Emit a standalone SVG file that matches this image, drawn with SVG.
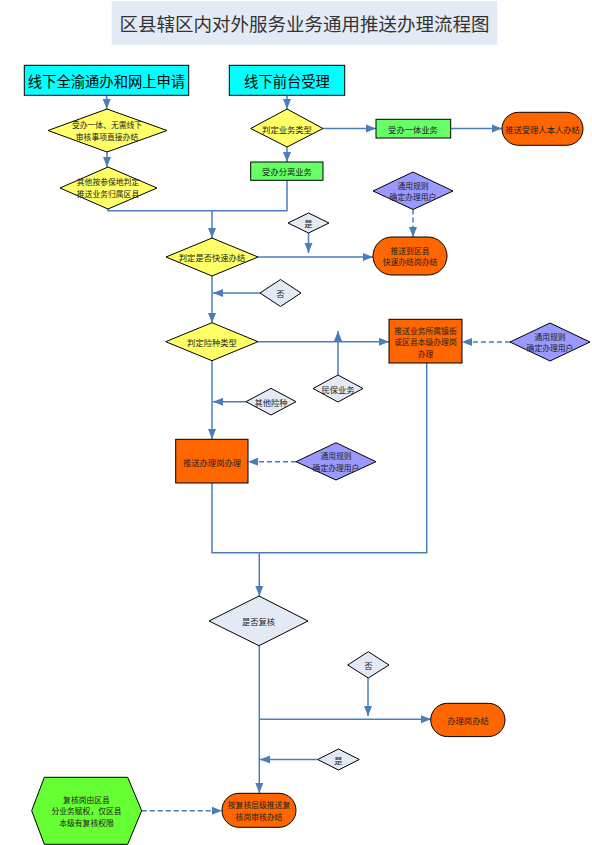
<svg xmlns="http://www.w3.org/2000/svg" width="592" height="845" viewBox="0 0 592 845">
<style>
text{font-family:"Noto Sans CJK SC","Noto Sans",sans-serif;text-anchor:middle;dominant-baseline:central;fill:#222;font-size:8.3px}
.sm{font-size:7.8px}
.big{font-size:14.3px;fill:#000}
.title{font-size:18.5px;fill:#333}
.bd{stroke:#000;stroke-width:1}
.cy{fill:#00ffff}
.ye{fill:#ffff66}
.gr{fill:#66ff66}
.or{fill:#ff6600}
.pu{fill:#9999ff}
.lt{fill:#e4eaf5}
.c{fill:none;stroke:#4a7ebb;stroke-width:1.5}
.a{marker-end:url(#ah)}
.d{stroke-dasharray:5,3}
</style>
<defs>
<marker id="ah" markerUnits="userSpaceOnUse" markerWidth="10" markerHeight="10" viewBox="0 0 10 10" refX="10" refY="5" orient="auto">
<path d="M0,1 L10,5 L0,9 Z" fill="#4a7ebb"/>
</marker>
</defs>
<g id="title"><rect x="111.7" y="1" width="385.6" height="44" fill="#e4eaf5"/><text class="title" x="304.5" y="23">区县辖区内对外服务业务通用推送办理流程图</text></g>
<g id="connectors">
<path class="c a" d="M106.7,95.5 V109"/>
<path class="c a" d="M287,95.5 V109"/>
<path class="c a" d="M107,152 V167"/>
<path class="c a" d="M323,128.5 H376"/>
<path class="c a" d="M451,128.5 H502"/>
<path class="c a" d="M287,147 V162"/>
<path class="c" d="M108,209 V210.7 H287 V180"/>
<path class="c a" d="M212,210.7 V238"/>
<path class="c a d" d="M413,209.5 V237"/>
<path class="c a" d="M258,257 H373"/>
<path class="c a" d="M308.5,233 V253"/>
<path class="c a" d="M212,276 V323"/>
<path class="c a" d="M260,293 H213"/>
<path class="c a" d="M258,341.7 H389"/>
<path class="c a" d="M338,375 V331"/>
<path class="c a d" d="M510,342 H462"/>
<path class="c a" d="M212,361 V439"/>
<path class="c a" d="M246,401.7 H213"/>
<path class="c a d" d="M296,461.7 H248"/>
<path class="c" d="M212,483 V552.7 H426.7 V363"/>
<path class="c a" d="M259.3,552.7 V596"/>
<path class="c a" d="M259.3,646 V793"/>
<path class="c a" d="M259.3,719.3 H431"/>
<path class="c a" d="M368,678 V716"/>
<path class="c a" d="M317.7,759.5 H260"/>
<path class="c a d" d="M141.7,810.7 H222"/>
</g>
<g id="n1"><rect class="cy bd" x="24.3" y="65.3" width="164.4" height="30"/><text class="big" x="106.5" y="80.5">线下全渝通办和网上申请</text></g>
<g id="n2"><rect class="cy bd" x="229.3" y="65.3" width="115.4" height="30"/><text class="big" x="287" y="80.5">线下前台受理</text></g>
<g id="n3"><polygon class="ye bd" points="48,130.5 107,109 167,130.5 107,152"/><text class="sm" x="107" y="124.5">受办一体、无需线下</text><text class="sm" x="107" y="136">审核事项直接办结</text></g>
<g id="n4"><polygon class="ye bd" points="60,188 108,167 157,188 108,209"/><text class="sm" x="108" y="181.5">其他按参保地判定</text><text class="sm" x="108" y="193">推送业务归属区县</text></g>
<g id="n5"><polygon class="ye bd" points="250.7,128.5 287,109 323,128.5 287,147"/><text x="287" y="128.5">判定业务类型</text></g>
<g id="n6"><rect class="gr bd" x="376" y="119.3" width="74.7" height="18.7"/><text x="413" y="128.7">受办一体业务</text></g>
<g id="n7"><rect class="or bd" x="502" y="112.3" width="81" height="33" rx="16.5"/><text x="542.5" y="129">推送受理人本人办结</text></g>
<g id="n8"><rect class="gr bd" x="250.7" y="162" width="72.3" height="18.3"/><text x="287" y="171.3">受办分离业务</text></g>
<g id="n9"><polygon class="pu bd" points="373,191 413,172 453,191 413,209.5"/><text class="sm" x="413" y="185">通用规则</text><text class="sm" x="413" y="196.5">确定办理用户</text></g>
<g id="n10"><polygon class="ye bd" points="166,257 212,238 258,257 212,276"/><text x="212" y="257">判定是否快速办结</text></g>
<g id="n11"><rect class="or bd" x="373" y="237" width="74" height="38" rx="19"/><text class="sm" x="410" y="250">推送到区县</text><text class="sm" x="410" y="261.5">快速办结岗办结</text></g>
<g id="n12"><polygon class="lt bd" points="288,223 308.5,213 329,223 308.5,233"/><text x="308.5" y="223">是</text></g>
<g id="n13"><polygon class="lt bd" points="260,293 280.5,279.5 301,293 280.5,306.5"/><text x="280.5" y="293">否</text></g>
<g id="n14"><polygon class="ye bd" points="165.7,341.7 212,322.7 258,341.7 212,360.7"/><text x="212" y="341.7">判定险种类型</text></g>
<g id="n15"><rect class="or bd" x="389" y="319.3" width="73" height="43.7"/><text class="sm" x="425.5" y="330">推送业务所属镇街</text><text class="sm" x="425.5" y="341.5">或区县本级办理岗</text><text class="sm" x="425.5" y="353">办理</text></g>
<g id="n16"><polygon class="pu bd" points="510,342 550,323 590,342 550,361"/><text class="sm" x="550" y="336">通用规则</text><text class="sm" x="550" y="347.5">确定办理用户</text></g>
<g id="n17"><polygon class="lt bd" points="313,388.5 338,375 363,388.5 338,402"/><text x="338" y="388.5">民保业务</text></g>
<g id="n18"><polygon class="lt bd" points="246,401.7 271,388.3 296,401.7 271,415"/><text x="271" y="401.7">其他险种</text></g>
<g id="n19"><rect class="or bd" x="175.7" y="439.3" width="72.3" height="43.7"/><text x="212" y="461.5">推送办理岗办理</text></g>
<g id="n20"><polygon class="pu bd" points="296,461.7 336,442.7 376,461.7 336,480"/><text class="sm" x="336" y="455.5">通用规则</text><text class="sm" x="336" y="467">确定办理用户</text></g>
<g id="n21"><polygon class="lt bd" points="209,621 259,596 308,621 259,645.7"/><text x="258.5" y="621">是否复核</text></g>
<g id="n22"><polygon class="lt bd" points="347.7,665 368.3,651.7 389,665 368.3,678"/><text x="368.3" y="665">否</text></g>
<g id="n23"><rect class="or bd" x="430.7" y="703.3" width="74.3" height="33.3" rx="16.7"/><text x="468" y="720">办理岗办结</text></g>
<g id="n24"><polygon class="lt bd" points="317.7,759.5 338.5,749 359.3,759.5 338.5,770"/><text x="338.5" y="759.5">是</text></g>
<g id="n25"><rect class="or bd" x="222" y="793.3" width="74" height="34" rx="17"/><text class="sm" x="259" y="804.5">按复核层级推送复</text><text class="sm" x="259" y="816">核岗审核办结</text></g>
<g id="n26"><polygon class="bd" fill="#66ff33" points="31.7,810.7 44.3,777.3 127.7,777.3 141.7,810.7 127.7,844.3 44.3,844.3"/><text class="sm" x="86.5" y="799">复核岗由区县</text><text class="sm" x="86.5" y="810.5">分业务赋权，仅区县</text><text class="sm" x="86.5" y="822">本级有复核权限</text></g>
</svg>
